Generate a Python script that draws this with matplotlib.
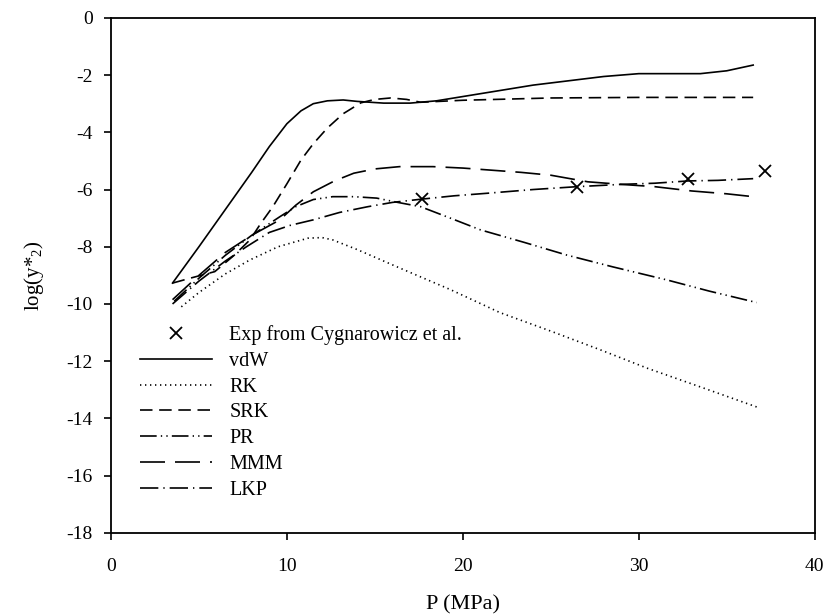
import numpy as np
import matplotlib
matplotlib.use("Agg")
import matplotlib.pyplot as plt

# データ
exp_p = [17.7, 26.5, 32.8, 37.2]
exp_y = [-6.34, -5.9, -5.64, -5.35]

vdw_p = [3.5, 5.0, 6.5, 8.0, 9.0, 10.0, 10.8, 11.5, 12.3, 13.2, 14.0, 15.5, 17.0,
         18.5, 20.0, 22.0, 24.0, 26.0, 28.0, 30.0, 32.0, 33.5, 35.0, 36.5]
vdw_y = [-9.27, -8.0, -6.7, -5.4, -4.5, -3.7, -3.25, -3.0, -2.9, -2.87, -2.92, -2.98,
         -2.98, -2.9, -2.75, -2.55, -2.35, -2.2, -2.05, -1.95, -1.95, -1.95, -1.85, -1.65]

rk_p = [4.0, 5.0, 6.5, 7.9, 9.5, 11.2, 12.0, 12.6, 14.0, 16.4, 19.3, 22.1, 25.0,
        27.8, 30.5, 33.5, 36.7]
rk_y = [-10.1, -9.6, -8.95, -8.46, -8.0, -7.7, -7.68, -7.76, -8.1, -8.74, -9.5,
        -10.3, -10.95, -11.6, -12.25, -12.9, -13.6]

srk_p = [3.5, 4.5, 5.9, 7.0, 7.9, 8.5, 9.2, 10.0, 10.8, 11.5, 12.3, 13.2, 14.2,
         15.0, 15.9, 16.8, 17.6, 20.0, 25.0, 30.0, 36.5]
srk_y = [-9.27, -9.1, -8.87, -8.3, -7.76, -7.2, -6.6, -5.8, -4.97, -4.4, -3.85,
         -3.35, -2.97, -2.85, -2.8, -2.85, -2.95, -2.88, -2.8, -2.78, -2.78]

pr_p = [3.6, 5.0, 6.5, 8.0, 9.6, 10.5, 11.5, 12.6, 13.8, 15.1, 16.3, 17.6, 19.5,
        21.0, 23.5, 25.9, 28.5, 31.6, 34.0, 36.7]
pr_y = [-9.9, -9.1, -8.3, -7.6, -6.95, -6.6, -6.35, -6.25, -6.25, -6.3, -6.45,
        -6.6, -7.05, -7.41, -7.85, -8.29, -8.7, -9.16, -9.55, -9.95]

mmm_p = [3.5, 5.0, 6.5, 8.0, 9.6, 10.5, 11.5, 12.7, 13.8, 15.0, 16.4, 18.3, 20.0,
         23.3, 25.0, 27.1, 29.0, 30.9, 33.0, 35.0, 36.5]
mmm_y = [-9.85, -9.0, -8.2, -7.6, -7.06, -6.55, -6.08, -5.7, -5.43, -5.28, -5.2,
         -5.2, -5.25, -5.4, -5.5, -5.73, -5.82, -5.9, -6.05, -6.15, -6.25]

lkp_p = [3.5, 5.0, 6.5, 7.7, 9.0, 10.2, 11.5, 13.0, 14.6, 16.0, 17.6, 19.5, 21.4,
         24.0, 26.5, 29.0, 30.9, 32.8, 34.5, 36.5]
lkp_y = [-10.0, -9.2, -8.5, -8.0, -7.5, -7.25, -7.06, -6.8, -6.6, -6.45, -6.34,
         -6.22, -6.13, -6.0, -5.9, -5.82, -5.78, -5.7, -5.68, -5.62]

x_ticks = [0, 10, 20, 30, 40]
y_ticks = [0, -2, -4, -6, -8, -10, -12, -14, -16, -18]

plt.rcParams["font.family"] = ["Liberation Serif", "DejaVu Serif"]
plt.rcParams["mathtext.fontset"] = "custom"
plt.rcParams["mathtext.rm"] = "Liberation Serif"
plt.rcParams["mathtext.it"] = "Liberation Serif"
plt.rcParams["axes.unicode_minus"] = False

fig = plt.figure(figsize=(8.28, 6.16), dpi=100)
ax = fig.add_axes([0.134, 0.135, 0.850, 0.836])

lw = 1.2
ax.plot(exp_p, exp_y, linestyle="none", marker="x", color="black",
        markersize=9, markeredgewidth=1.3, label="Exp from Cygnarowicz et al.")
ax.plot(vdw_p, vdw_y, color="black", linewidth=lw, label="vdW")
ax.plot(rk_p, rk_y, color="black", linewidth=lw, dashes=(0.8, 2.2), label="RK")
ax.plot(srk_p, srk_y, color="black", linewidth=lw, dashes=(7.5, 4.0), label="SRK")
ax.plot(pr_p, pr_y, color="black", linewidth=lw,
        dashes=(10, 2.5, 0.8, 2.5, 0.8, 2.5), label="PR")
ax.plot(mmm_p, mmm_y, color="black", linewidth=lw, dashes=(15, 6), label="MMM")
ax.plot(lkp_p, lkp_y, color="black", linewidth=lw,
        dashes=(11, 3, 0.8, 3), label="LKP")

ax.set_xlim(0, 40)
ax.set_ylim(-18, 0)
ax.set_xticks(x_ticks)
ax.set_yticks(y_ticks)
ax.tick_params(direction="out", length=5, width=1.2, labelsize=14, pad=13)
ax.tick_params(axis="y", pad=8)
for spine in ax.spines.values():
    spine.set_linewidth(1.3)

ax.set_xlabel("P (MPa)", fontsize=16, labelpad=15)
ax.set_ylabel(r"log(y*$_{2}$)", fontsize=15, labelpad=15)

ax.legend(loc="upper left", bbox_to_anchor=(0.041, 0.403), frameon=False,
          fontsize=14.5, handlelength=3.6, handletextpad=0.85, labelspacing=0.33,
          borderpad=0, borderaxespad=0)

plt.savefig("out.png", dpi=100)
